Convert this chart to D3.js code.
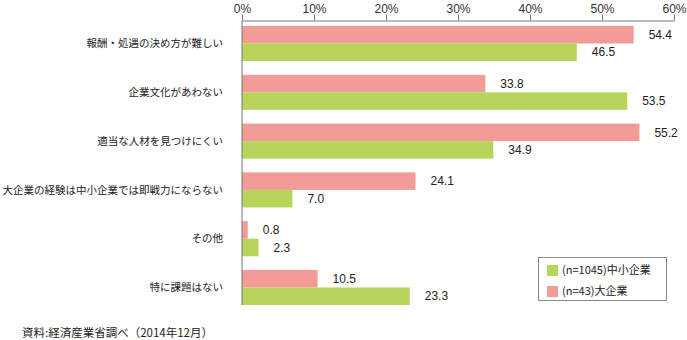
<!DOCTYPE html>
<html><head><meta charset="utf-8">
<script src="https://cdn.jsdelivr.net/npm/d3@7"></script>
<style>
body{margin:0;background:#fff;}
svg{display:block;}
</style></head>
<body>
<svg id="chart" width="687" height="340"></svg>
<script>
const categories = ["報酬・処遇の決め方が難しい","企業文化があわない","適当な人材を見つけにくい","大企業の経験は中小企業では即戦力にならない","その他","特に課題はない"];
const seriesNames = ["(n=43)大企業","(n=1045)中小企業"];
const largeValues = [54.4, 33.8, 55.2, 24.1, 0.8, 10.5];
const smallValues = [46.5, 53.5, 34.9, 7.0, 2.3, 23.3];
const tickValues = [0,10,20,30,40,50,60];
const legendOrder = ["(n=1045)中小企業","(n=43)大企業"];
const sourceText = "資料:経済産業省調べ（2014年12月）";

const colors = {"(n=43)大企業":"#F39B96","(n=1045)中小企業":"#B7D55B"};
const svg = d3.select("#chart");
const jp = "'Noto Sans CJK JP', sans-serif";
const lat = "'Liberation Sans', Arial, sans-serif";

const axisY = 20.5;
const x = d3.scaleLinear().domain([0,60]).range([242,674]);
const y = d3.scaleBand().domain(categories).range([26,305]).paddingInner(0.282).paddingOuter(0);
const ySub = d3.scaleBand().domain(seriesNames).range([0,y.bandwidth()]);

const data = categories.map((c,i)=>({cat:c, vals:[{s:seriesNames[0],v:largeValues[i]},{s:seriesNames[1],v:smallValues[i]}]}));

// axis
const xAxis = d3.axisTop(x).tickValues(tickValues).tickFormat(d=>d+"%").tickSize(6).tickSizeOuter(0).tickPadding(2);
const gx = svg.append("g").attr("transform",`translate(0,${axisY})`).call(xAxis);
gx.select(".domain").attr("stroke","#777");
gx.selectAll(".tick line").attr("stroke","#777");
gx.selectAll(".tick text").attr("font-family",lat).attr("font-size","12px").attr("fill","#333");

const groups = svg.append("g").selectAll("g").data(data).join("g")
  .attr("transform",d=>`translate(0,${y(d.cat)})`);
groups.selectAll("rect").data(d=>d.vals).join("rect")
  .attr("x",x(0)).attr("y",d=>ySub(d.s))
  .attr("width",d=>x(d.v)-x(0)).attr("height",ySub.bandwidth())
  .attr("fill",d=>colors[d.s]);
groups.selectAll("text.val").data(d=>d.vals).join("text").attr("class","val")
  .attr("x",d=>x(d.v)+15).attr("y",d=>ySub(d.s)+ySub.bandwidth()/2)
  .attr("dy","0.35em").attr("font-family",lat).attr("font-size","12px").attr("fill","#222")
  .text(d=>d.v.toFixed(1));

// y axis line
svg.append("line").attr("x1",x(0)).attr("x2",x(0)).attr("y1",axisY).attr("y2",305).attr("stroke","#777");

// category labels
svg.append("g").selectAll("text").data(categories).join("text")
  .attr("x",223).attr("y",d=>y(d)+y.bandwidth()/2).attr("dy","0.35em")
  .attr("text-anchor","end").attr("font-family",jp).attr("font-size","10.5px").attr("fill","#222")
  .text(d=>d);

// legend
const lg = svg.append("g").attr("transform","translate(538,257)");
lg.append("rect").attr("x",0.5).attr("y",0.5).attr("width",128).attr("height",43).attr("fill","#fff").attr("stroke","#888");
const li = lg.selectAll("g").data(legendOrder).join("g").attr("transform",(d,i)=>`translate(9,${8+i*21})`);
li.append("rect").attr("width",11).attr("height",11).attr("fill",d=>colors[d]);
li.append("text").attr("x",15).attr("y",5.5).attr("dy","0.35em").attr("font-family",jp).attr("font-size","11px").attr("fill","#222").text(d=>d);

// source
svg.append("text").attr("x",22).attr("y",333).attr("dy","0.35em").attr("font-family",jp).attr("font-size","11.5px").attr("fill","#222").text(sourceText);
</script>
</body></html>
